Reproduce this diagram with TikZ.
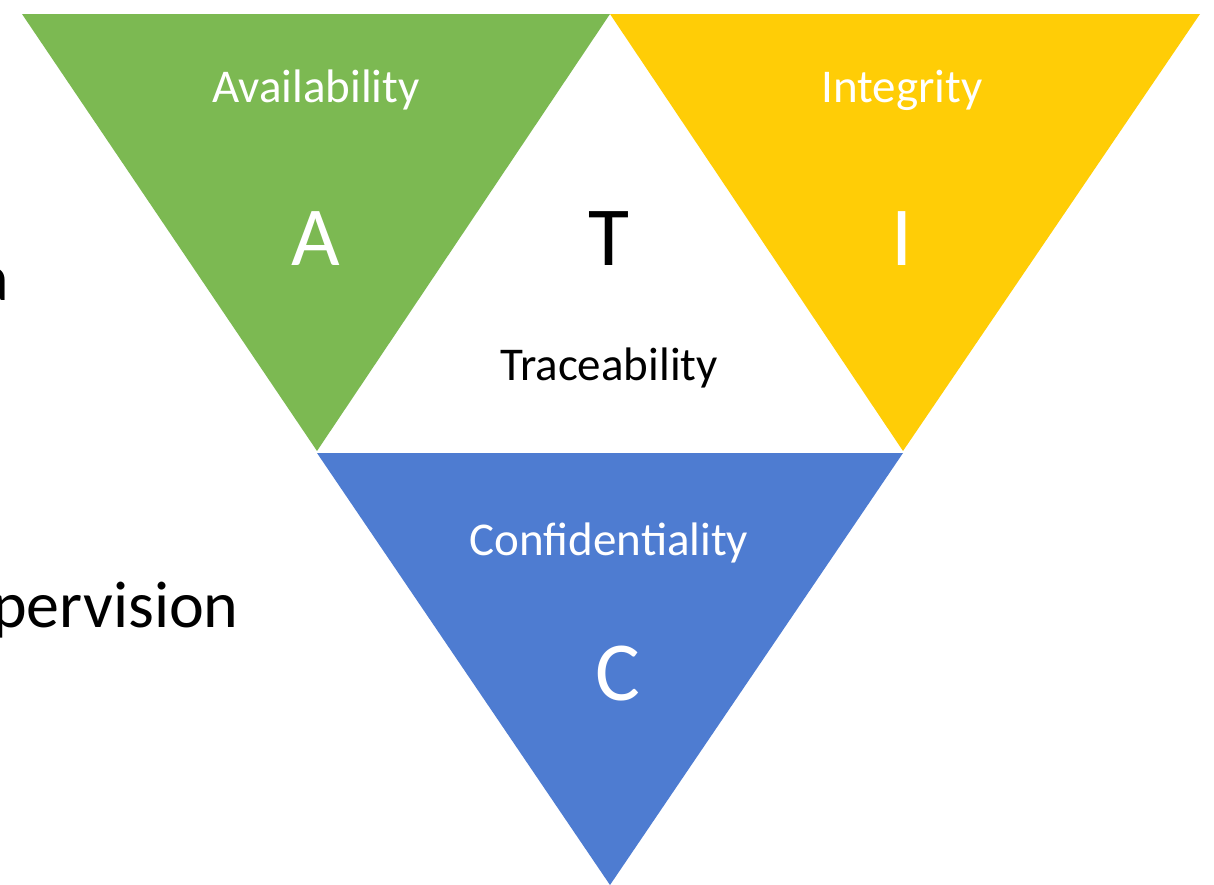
\documentclass[tikz,border=0pt]{standalone}
\usepackage{fontspec}
\setmainfont{Carlito}
\definecolor{agreen}{HTML}{7CB952}
\definecolor{iyellow}{HTML}{FFCD06}
\definecolor{cblue}{HTML}{4E7CD1}
\begin{document}
\begin{tikzpicture}[x=1bp,y=-1bp,
  lbl/.style={inner sep=0pt,anchor=base,font=\fontsize{47bp}{56bp}\selectfont},
  big/.style={inner sep=0pt,anchor=base,font=\fontsize{84bp}{96bp}\selectfont},
  side/.style={inner sep=0pt,anchor=base,font=\fontsize{66bp}{80bp}\selectfont}]
\useasboundingbox (0,0) rectangle (1214,885);
\fill[white] (0,0) rectangle (1214,885);
% triangles
\fill[agreen] (22,14) -- (610,14) -- (317,451) -- cycle;
\fill[iyellow] (610,14) -- (1200,14) -- (903,451) -- cycle;
\fill[cblue] (317,453) -- (903,453) -- (610,885) -- cycle;
% labels
\node[lbl,text=white] (avail) at (316,102) {Availability};
\node[lbl,text=white] (integ) at (902,102) {Integrity};
\node[big,text=white] (A) at (316,265) {A};
\node[big,text=black] (T) at (609,265) {T};
\node[big,text=white] (I) at (902,265) {I};
\node[lbl,text=black] (trace) at (609,380) {Traceability};
\node[lbl,text=white] (conf) at (609,555) {Confidentiality};
\node[big,text=white] (C) at (618,700) {C};
% cut-off side texts
\node[side,anchor=base east] (sa) at (9,300) {a};
\node[side,anchor=base west] (sp) at (-8,627) {pervision};
\end{tikzpicture}
\end{document}
